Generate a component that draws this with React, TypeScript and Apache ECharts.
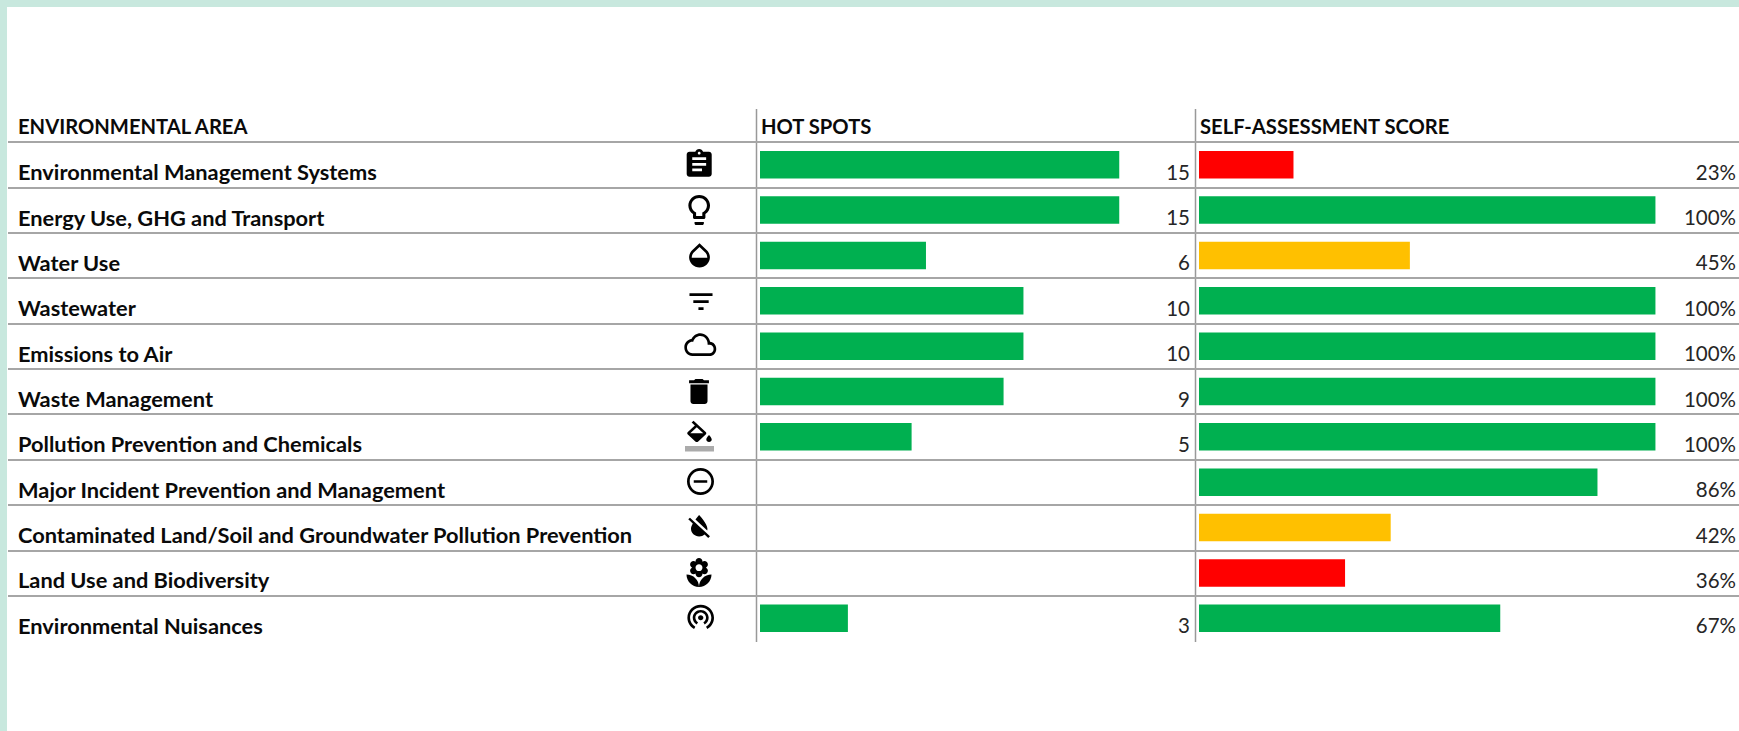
import React, { useEffect, useRef } from "react";
import * as echarts from "echarts";

const areas = [
  "Environmental Management Systems",
  "Energy Use, GHG and Transport",
  "Water Use",
  "Wastewater",
  "Emissions to Air",
  "Waste Management",
  "Pollution Prevention and Chemicals",
  "Major Incident Prevention and Management",
  "Contaminated Land/Soil and Groundwater Pollution Prevention",
  "Land Use and Biodiversity",
  "Environmental Nuisances",
];
const headers = ["ENVIRONMENTAL AREA", "HOT SPOTS", "SELF-ASSESSMENT SCORE"];

// Printed figures
const hotSpotLabels = ["15", "15", "6", "10", "10", "9", "5", "", "", "", "3"];
const scoreLabels = ["23%", "100%", "45%", "100%", "100%", "100%", "100%", "86%", "42%", "36%", "67%"];

// Bar lengths as drawn in the picture (the data bars are not proportional to the printed figures)
const hotSpotBars = [15, 15, 6.93, 11, 11, 10.17, 6.33, null, null, null, 3.67];
const scoreBars = [20.7, 100, 46.2, 100, 100, 100, 100, 87.3, 42, 32, 66];
const scoreColors = ["#FF0000", "#00B050", "#FFC000", "#00B050", "#00B050", "#00B050", "#00B050", "#00B050", "#FFC000", "#FF0000", "#00B050"];
const hotSpotColor = "#00B050";

const iconPaths: Record<string, string> = {
  iconAssign: "M19 3h-4.18C14.4 1.84 13.3 1 12 1c-1.3 0-2.4.84-2.82 2H5c-1.1 0-2 .9-2 2v14c0 1.1.9 2 2 2h14c1.1 0 2-.9 2-2V5c0-1.1-.9-2-2-2zm-7 0c.55 0 1 .45 1 1s-.45 1-1 1-1-.45-1-1 .45-1 1-1zm2 14H7v-2h7v2zm3-4H7v-2h10v2zm0-4H7V7h10v2z",
  iconBulb: "M9 21c0 .55.45 1 1 1h4c.55 0 1-.45 1-1v-1H9v1zm3-19C8.14 2 5 5.14 5 9c0 2.38 1.19 4.47 3 5.74V17c0 .55.45 1 1 1h6c.55 0 1-.45 1-1v-2.26c1.81-1.27 3-3.36 3-5.74 0-3.86-3.14-7-7-7zm2.85 11.1l-.85.6V16h-4v-2.3l-.85-.6C7.8 12.16 7 10.63 7 9c0-2.76 2.24-5 5-5s5 2.24 5 5c0 1.63-.8 3.16-2.15 4.1z",
  iconDrop: "M17.66 8L12 2.35 6.34 8C4.78 9.56 4 11.64 4 13.64s.78 4.11 2.34 5.67 3.61 2.35 5.66 2.35 4.1-.79 5.66-2.35S20 15.64 20 13.64 19.22 9.56 17.66 8zM6 14c.01-2 .62-3.27 1.76-4.4L12 5.27l4.24 4.38C17.38 10.77 17.99 12 18 14H6z",
  iconFilter: "M10 18h4v-2h-4v2zM3 6v2h18V6H3zm3 7h12v-2H6v2z",
  iconCloud: "M19.35 10.04C18.67 6.59 15.64 4 12 4 9.11 4 6.6 5.64 5.35 8.04 2.34 8.36 0 10.91 0 14c0 3.31 2.69 6 6 6h13c2.76 0 5-2.24 5-5 0-2.64-2.05-4.78-4.65-4.96zM19 18H6c-2.21 0-4-1.79-4-4s1.79-4 4-4h.71C7.37 7.69 9.48 6 12 6c3.04 0 5.5 2.46 5.5 5.5v.5H19c1.66 0 3 1.34 3 3s-1.34 3-3 3z",
  iconTrash: "M6 19c0 1.1.9 2 2 2h8c1.1 0 2-.9 2-2V7H6v12zM19 4h-3.5l-1-1h-5l-1 1H5v2h14V4z",
  iconFill: "M16.56 8.94L7.62 0 6.21 1.41l2.38 2.38-5.15 5.15c-.59.59-.59 1.54 0 2.12l5.5 5.5c.29.29.68.44 1.06.44s.77-.15 1.06-.44l5.5-5.5c.59-.58.59-1.53 0-2.12zM5.21 10L10 5.21 14.79 10H5.21zM19 11.5s-2 2.17-2 3.5c0 1.1.9 2 2 2s2-.9 2-2c0-1.33-2-3.5-2-3.5z",
  iconMinus: "M7 11v2h10v-2H7zm5-9C6.48 2 2 6.48 2 12s4.48 10 10 10 10-4.48 10-10S17.52 2 12 2zm0 18c-4.41 0-8-3.59-8-8s3.59-8 8-8 8 3.59 8 8-3.59 8-8 8z",
  iconReset: "M18 14c0-4-6-10.8-6-10.8s-1.33 1.51-2.73 3.52l8.59 8.59c.09-.42.14-.86.14-1.31zm-.88 3.12L12.5 12.5 5.27 5.27 4 6.55l3.32 3.32C6.55 11.32 6 12.79 6 14c0 3.31 2.69 6 6 6 1.52 0 2.9-.57 3.96-1.5l2.63 2.63 1.27-1.27-2.74-2.74z",
  iconFlower: "M12 22c4.97 0 9-4.03 9-9-4.97 0-9 4.03-9 9zM5.6 10.25c0 1.38 1.12 2.5 2.5 2.5.53 0 1.01-.16 1.42-.44l-.02.19c0 1.38 1.12 2.5 2.5 2.5s2.5-1.12 2.5-2.5l-.02-.19c.4.28.89.44 1.42.44 1.38 0 2.5-1.12 2.5-2.5 0-1-.59-1.85-1.43-2.25.84-.4 1.43-1.25 1.43-2.25 0-1.38-1.12-2.5-2.5-2.5-.53 0-1.01.16-1.42.44l.02-.19C14.5 2.12 13.38 1 12 1S9.5 2.12 9.5 3.5l.02.19c-.4-.28-.89-.44-1.42-.44-1.38 0-2.5 1.12-2.5 2.5 0 1 .59 1.85 1.43 2.25-.84.4-1.43 1.25-1.43 2.25zM12 5.5c1.38 0 2.5 1.12 2.5 2.5s-1.12 2.5-2.5 2.5S9.5 9.38 9.5 8s1.12-2.5 2.5-2.5zM3 13c0 4.97 4.03 9 9 9 0-4.97-4.03-9-9-9z",
  iconWifi: "M12 11c-1.1 0-2 .9-2 2s.9 2 2 2 2-.9 2-2-.9-2-2-2zm6 2c0-3.31-2.69-6-6-6s-6 2.69-6 6c0 2.22 1.21 4.15 3 5.19l1-1.74c-1.19-.7-2-1.97-2-3.45 0-2.21 1.79-4 4-4s4 1.79 4 4c0 1.48-.81 2.75-2 3.45l1 1.74c1.79-1.04 3-2.97 3-5.19zM12 3C6.48 3 2 7.48 2 13c0 3.7 2.01 6.92 4.99 8.65l1-1.73C5.61 18.53 4 15.96 4 13c0-4.42 3.58-8 8-8s8 3.58 8 8c0 2.96-1.61 5.53-4 6.92l1 1.73c2.99-1.73 5-4.95 5-8.65 0-5.52-4.48-10-10-10z",
};
Object.keys(iconPaths).forEach((k) => {
  echarts.graphic.registerShape(k, echarts.graphic.extendPath(iconPaths[k], {}));
});

// icon name, centre x, top y, x scale, y scale
const iconPlacement: [string, number, number, number, number][] = [
  ["iconAssign", 699.2, 147.6, 1.39, 1.39],
  ["iconBulb", 699.2, 192, 1.55, 1.5],
  ["iconDrop", 699.5, 240.3, 1.3, 1.25],
  ["iconFilter", 701, 285, 1.28, 1.39],
  ["iconCloud", 700.3, 327.6, 1.33, 1.42],
  ["iconTrash", 699, 374.8, 1.42, 1.39],
  ["iconFill", 699.5, 420.7, 1.36, 1.25],
  ["iconMinus", 700.5, 465.3, 1.35, 1.35],
  ["iconReset", 699.2, 510.9, 1.37, 1.28],
  ["iconFlower", 699, 556.6, 1.39, 1.38],
  ["iconWifi", 700.7, 601, 1.33, 1.29],
];

const FONT = "Lato";
const LINE = "#A6A6A6";
const TOP = 142;
const H = 499;
const BAR_H = 27.5;

export default function App() {
  const ref = useRef<HTMLDivElement>(null);
  useEffect(() => {
    const chart = echarts.init(ref.current!, undefined, { renderer: "svg" });
    const bandY = (formatter: (v: string, i: number) => string, gridIndex: number, size: number, weight: any, margin: number, align: string, splitLine: boolean) => ({
      type: "category",
      gridIndex,
      inverse: true,
      position: gridIndex === 0 ? "left" : "right",
      data: areas,
      axisLine: { show: false },
      axisTick: { show: false },
      splitLine: { show: splitLine, showMaxLine: false, showMinLine: true, lineStyle: { color: LINE, width: 2 } },
      axisLabel: {
        interval: 0,
        margin,
        align,
        formatter,
        fontFamily: FONT,
        fontSize: size,
        fontWeight: weight,
        color: gridIndex === 0 ? "#0a0a0a" : "#262626",
        verticalAlign: "top",
        lineHeight: 14,
      },
    });
    const valueX = (gridIndex: number, max: number) => ({ type: "value", gridIndex, min: 0, max, show: false });

    const headerStyle = { fontFamily: FONT, fontSize: 20.2, fontWeight: 700, fill: "#0a0a0a", verticalAlign: "middle" };
    chart.setOption({
      animation: false,
      grid: [
        { left: 8, right: 0, top: TOP, height: H },
        { left: 760, width: 430, top: TOP, height: H },
        { left: 1199, width: 538, top: TOP, height: H },
      ],
      xAxis: [valueX(0, 1), valueX(1, 430 / 23.95), valueX(2, 538 / 4.59)],
      yAxis: [
        bandY((v) => v, 0, 21.8, 700, -10, "left", true),
        bandY((_v, i) => hotSpotLabels[i], 1, 20.5, 400, 0, "right", false),
        bandY((_v, i) => scoreLabels[i], 2, 20.5, 400, 2, "right", false),
      ],
      series: [
        {
          type: "bar",
          xAxisIndex: 1,
          yAxisIndex: 1,
          barWidth: BAR_H,
          data: hotSpotBars,
          itemStyle: { color: hotSpotColor },
        },
        {
          type: "bar",
          xAxisIndex: 2,
          yAxisIndex: 2,
          barWidth: BAR_H,
          data: scoreBars.map((v, i) => ({ value: v, itemStyle: { color: scoreColors[i] } })),
        },
      ],
      graphic: [
        { type: "line", shape: { x1: 756.5, y1: 109, x2: 756.5, y2: 642 }, style: { stroke: "#999999", lineWidth: 1.5 } },
        { type: "line", shape: { x1: 1195.5, y1: 109, x2: 1195.5, y2: 642 }, style: { stroke: "#999999", lineWidth: 1.5 } },
        { type: "text", x: 18, y: 126, style: { ...headerStyle, text: headers[0] } },
        { type: "text", x: 761, y: 126, style: { ...headerStyle, text: headers[1] } },
        { type: "text", x: 1200, y: 126, style: { ...headerStyle, text: headers[2] } },
        ...iconPlacement.map(([type, cx, y, sx, sy]) => ({
          type,
          x: cx - 12 * sx,
          y,
          scaleX: sx,
          scaleY: sy,
          style: { fill: "#000" },
        })),
        { type: "rect", shape: { x: 685, y: 446, width: 29, height: 5.5 }, style: { fill: "#ABABAB" } },
      ],
    });
    return () => chart.dispose();
  }, []);
  return (
    <div style={{ position: "fixed", left: 0, top: 0, width: 1739, height: 731, background: "#C8E8DE", overflow: "hidden" }}>
      <div style={{ position: "absolute", left: 7, top: 7, width: 1732, height: 724, background: "#fff" }} />
      <div ref={ref} style={{ position: "absolute", left: 0, top: 0, width: 1739, height: 731 }} />
    </div>
  );
}
